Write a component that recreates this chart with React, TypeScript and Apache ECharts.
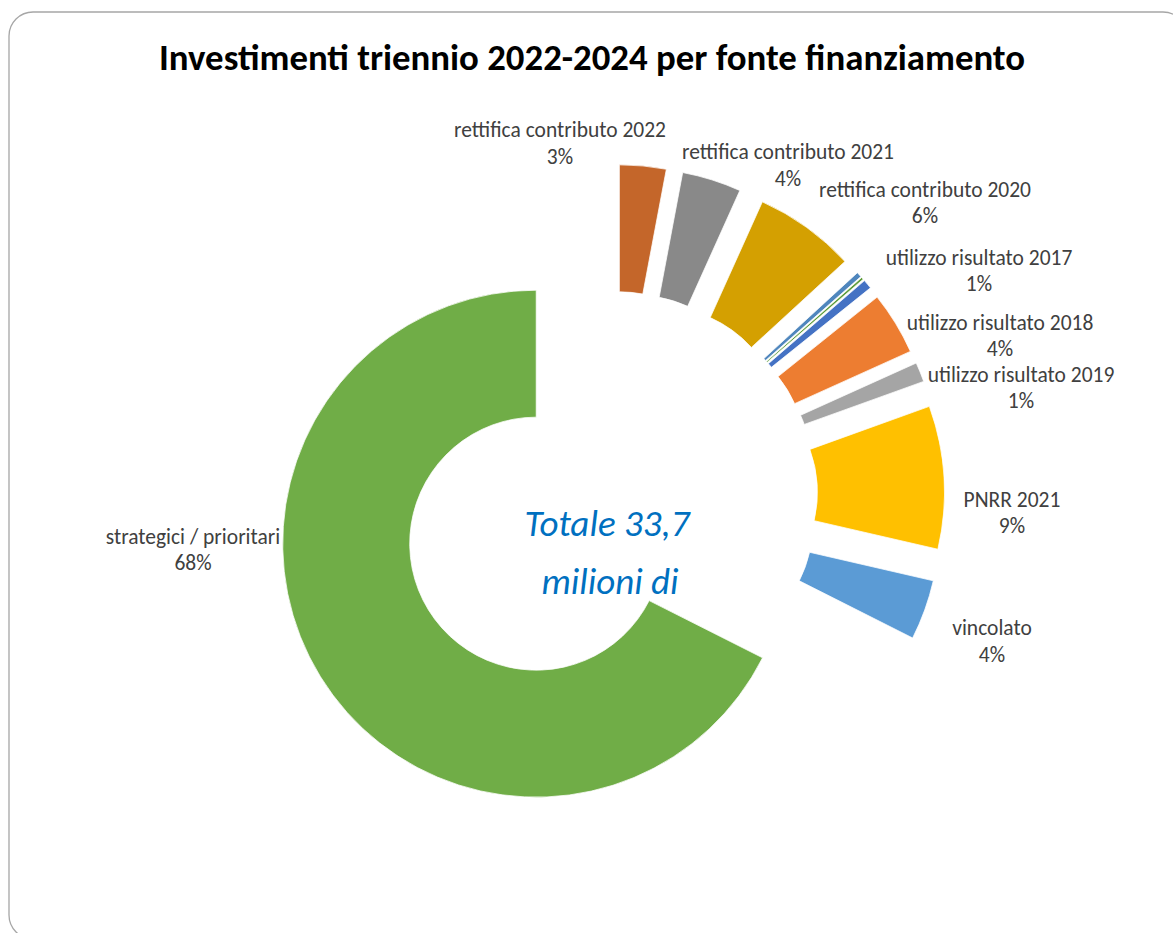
import React, { useEffect, useRef } from "react";
import * as echarts from "echarts";

const TITLE = "Investimenti triennio 2022-2024 per fonte finanziamento";
const CENTER_LINES = ["Totale 33,7", "milioni di"];

// slices in clockwise order from 12 o'clock (values in millions of euro)
const CATEGORIES = [
  "rettifica contributo 2022",
  "rettifica contributo 2021",
  "rettifica contributo 2020",
  "",
  "",
  "utilizzo risultato 2017",
  "utilizzo risultato 2018",
  "utilizzo risultato 2019",
  "PNRR 2021",
  "vincolato",
  "strategici / prioritari",
];
const VALUES = [1.0, 1.27, 2.17, 0.11, 0.05, 0.2, 1.35, 0.42, 3.07, 1.29, 22.77];
const COLORS = [
  "#C4662A",
  "#898989",
  "#D4A001",
  "#4F86BD",
  "#5E9C3A",
  "#4472C4",
  "#ED7D31",
  "#A5A5A5",
  "#FFC000",
  "#5B9BD5",
  "#70AD47",
];
// which explosion group each slice belongs to (0 = small slices, 1 = main slice)
const GROUP = [0, 0, 0, 0, 0, 0, 0, 0, 0, 0, 1];
const GROUP_OFFSET = [79, 89];

// label centres (layout)
const LABEL_POS: (number[] | null)[] = [
  [560, 143.5],
  [788, 165.5],
  [925, 203],
  null,
  null,
  [979, 271],
  [1000, 336],
  [1021, 388],
  [1012, 513],
  [992, 641.5],
  [193, 550],
];

const TOTAL = VALUES.reduce((a, b) => a + b, 0);
const FONT = "Carlito, Calibri, Lato, 'Noto Sans', sans-serif";

export default function App() {
  const ref = useRef<HTMLDivElement>(null);
  useEffect(() => {
    if (!ref.current) return;
    const chart = echarts.init(ref.current, undefined, { renderer: "svg" });
    const CX = 612;
    const CY = 497;

    const series = [0, 1].map((g) => ({
      type: "pie",
      center: [CX, CY],
      radius: [126.5, 253.5],
      startAngle: 90,
      clockwise: true,
      selectedMode: "multiple",
      selectedOffset: GROUP_OFFSET[g],
      avoidLabelOverlap: false,
      silent: true,
      emphasis: { disabled: true },
      labelLine: { show: false },
      label: { show: false },
      data: CATEGORIES.map((name, i) => {
        const mine = GROUP[i] === g;
        return {
          name,
          value: VALUES[i],
          selected: mine,
          itemStyle: mine
            ? { color: COLORS[i], borderColor: "#ffffff", borderWidth: 0.75 }
            : { color: "rgba(0,0,0,0)", opacity: 0, borderWidth: 0 },
        };
      }),
    }));

    const labelTexts = CATEGORIES.map((name, i) => {
      const pos = LABEL_POS[i];
      if (!pos || name === "") return null;
      return {
        type: "text",
        x: pos[0],
        y: pos[1],
        style: {
          text: `${name}\n${Math.round((VALUES[i] / TOTAL) * 100)}%`,
          fontFamily: FONT,
          fontSize: 21.5,
          lineHeight: 26.5,
          fill: "#404040",
          textAlign: "center",
          textVerticalAlign: "middle",
        },
      };
    }).filter(Boolean);

    chart.setOption({
      animation: false,
      backgroundColor: "#ffffff",
      graphic: [
        {
          type: "rect",
          shape: { x: 9, y: 12, width: 1178, height: 927, r: 24 },
          style: { fill: "none", stroke: "#A6A6A6", lineWidth: 1.3 },
          z: 0,
        },
        {
          type: "text",
          x: 592,
          y: 57,
          style: {
            text: TITLE,
            fontFamily: FONT,
            fontWeight: "bold",
            fontSize: 36.8,
            fill: "#000000",
            textAlign: "center",
            textVerticalAlign: "middle",
          },
        },
        {
          type: "text",
          x: 607,
          y: 523,
          style: {
            text: CENTER_LINES[0],
            fontFamily: FONT,
            fontStyle: "italic",
            fontSize: 37,
            fill: "#0070C0",
            textAlign: "center",
            textVerticalAlign: "middle",
          },
        },
        {
          type: "text",
          x: 610,
          y: 581,
          style: {
            text: CENTER_LINES[1],
            fontFamily: FONT,
            fontStyle: "italic",
            fontSize: 37,
            fill: "#0070C0",
            textAlign: "center",
            textVerticalAlign: "middle",
          },
        },
        ...labelTexts,
      ],
      series,
    });
    return () => chart.dispose();
  }, []);
  return (
    <div
      ref={ref}
      style={{ position: "fixed", left: 0, top: 0, width: 1173, height: 933 }}
    />
  );
}
